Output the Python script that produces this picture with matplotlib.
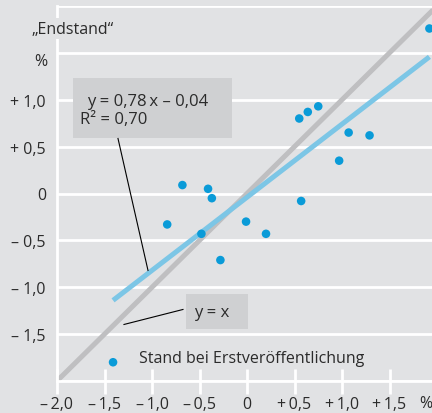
import matplotlib.pyplot as plt
from matplotlib.patches import Rectangle

plt.rcParams['font.family'] = ['Open Sans', 'DejaVu Sans']

# Stand bei Erstveröffentlichung (x) und "Endstand" (y), in %
erst = [-1.41, -0.84, -0.68, -0.48, -0.41, -0.37, -0.28, -0.01, 0.20,
        0.55, 0.57, 0.64, 0.75, 0.97, 1.07, 1.29, 1.92]
endstand = [-1.80, -0.33, 0.09, -0.43, 0.05, -0.05, -0.71, -0.30, -0.43,
            0.80, -0.08, 0.87, 0.93, 0.35, 0.65, 0.62, 1.76]
slope, intercept, r2 = 0.78, -0.04, 0.70

x_ticks = [-2.0, -1.5, -1.0, -0.5, 0.0, 0.5, 1.0, 1.5]
x_labels = ['–\u20092,0', '–\u20091,5', '–\u20091,0', '–\u20090,5', '0',
            '+\u20090,5', '+\u20091,0', '+\u20091,5']
y_ticks = [-2.0, -1.5, -1.0, -0.5, 0.0, 0.5, 1.0, 1.5, 2.0]
y_labels = ['', '– 1,5', '– 1,0', '– 0,5', '0', '+ 0,5', '+ 1,0', '', '']

bg = '#e1e2e4'
box = '#cfd0d2'
txt = '#2b2b2b'
dot = '#0a9bd8'
fitc = '#7cc6e6'
idc = '#bfbfc1'

fig = plt.figure(figsize=(4.32, 4.14), dpi=100, facecolor=bg)
ax = fig.add_axes([57 / 432, 32 / 414, 380 / 432, 375 / 414], facecolor=bg)
ax.set_xlim(-2, 2)
ax.set_ylim(-2, 2)

# gridlines and axes in white
ax.set_yticks(y_ticks)
ax.set_yticklabels(y_labels)
ax.set_xticks(x_ticks)
ax.set_xticklabels(x_labels)
ax.yaxis.grid(True, color='white', lw=2, zorder=0)
ax.set_axisbelow(True)
for s in ['top', 'right']:
    ax.spines[s].set_visible(False)
for s in ['left', 'bottom']:
    ax.spines[s].set_color('white')
    ax.spines[s].set_linewidth(2)
ax.tick_params(axis='y', length=0, pad=8, labelsize=11.5, labelcolor=txt)
ax.tick_params(axis='x', direction='inout', length=18, width=2, color='white',
               pad=1.5, labelsize=11.5, labelcolor=txt)

# y = x and fitted line
lim = ax.get_xlim()
ax.plot(lim, lim, color=idc, lw=3.6, solid_capstyle='butt', zorder=2)
fx = [min(erst), max(erst)]
ax.plot(fx, [slope * v + intercept for v in fx], color=fitc, lw=3.6,
        solid_capstyle='butt', zorder=3)

ax.scatter(erst, endstand, s=38, color=dot, edgecolors='none', zorder=4, clip_on=False)

# annotations
ax.add_patch(Rectangle((-1.83, 0.597), 1.67, 0.63, facecolor=box, edgecolor='none', zorder=5))
eq = f'y = {slope:.2f}'.replace('.', ',') + '\u2009x – ' + f'{abs(intercept):.2f}'.replace('.', ',')
ax.text(-1.68, 0.99, eq, fontsize=12, color=txt, va='center', zorder=6)
ax.text(-1.76, 0.80, 'R² = ' + f'{r2:.2f}'.replace('.', ','), fontsize=12, color=txt,
        va='center', zorder=6)
ax.plot([-1.358, -1.042], [0.587, -0.821], color='black', lw=0.8, zorder=5)

ax.add_patch(Rectangle((-0.64, -1.44), 0.65, 0.363, facecolor=box, edgecolor='none', zorder=5))
ax.text(-0.56, -1.26, 'y = x', fontsize=12, color=txt, va='center', zorder=6)
ax.plot([-0.674, -1.295], [-1.237, -1.397], color='black', lw=0.8, zorder=5)

ax.text(-1.137, -1.76, 'Stand bei Erstveröffentlichung', fontsize=11.5, color=txt,
        va='center', zorder=6)
ax.text(-2.27, 1.76, '„Endstand“', fontsize=11.5, color=txt, va='center', ha='left',
        clip_on=False, zorder=6,
        bbox=dict(facecolor=bg, edgecolor='none', pad=2))
ax.text(-2.105, 1.41, '%', fontsize=11.5, color=txt, va='center', ha='right', clip_on=False)
ax.text(1.81, -2.24, '%', fontsize=11.5, color=txt, va='center', ha='left', clip_on=False)

fig.savefig('out.png', dpi=100, facecolor=bg)
